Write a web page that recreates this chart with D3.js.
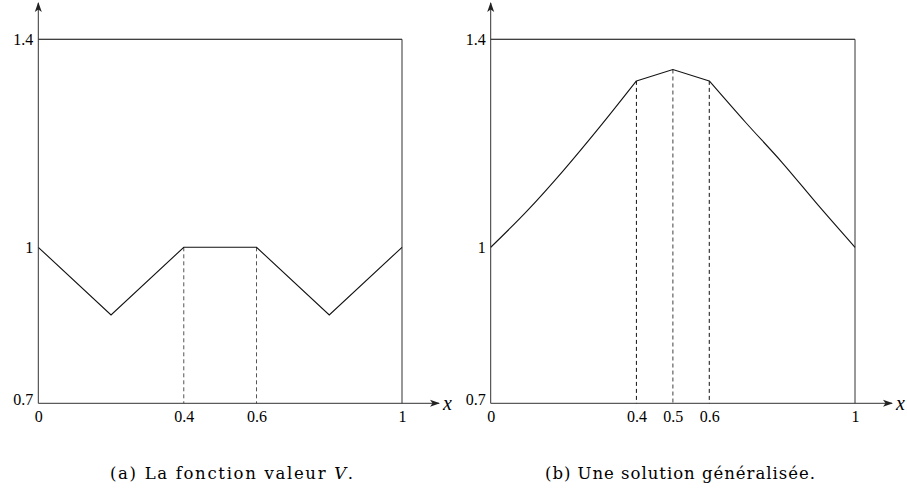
<!DOCTYPE html>
<html>
<head>
<meta charset="utf-8">
<script src="https://cdn.jsdelivr.net/npm/d3@7"></script>
<style>
  html, body { margin: 0; padding: 0; background: #fff; }
  svg { display: block; }
</style>
</head>
<body>
<svg id="fig" width="907" height="490"></svg>
<script>
// Panel (a): value function V, piecewise linear
const valueX = [0, 0.2, 0.4, 0.6, 0.8, 1];
const valueY = [1, 0.87, 1, 1, 0.87, 1];

// Panel (b): generalized solution, smooth flanks joined by a kinked cap
const solLeftX = [0, 0.1, 0.2, 0.3, 0.4];
const solLeftY = [1, 1.07, 1.148, 1.232, 1.32];
const solCapX = [0.4, 0.5, 0.6];
const solCapY = [1.32, 1.342, 1.32];
const solRightX = [0.6, 0.7, 0.8, 0.9, 1];
const solRightY = [1.32, 1.24, 1.163, 1.08, 1];

// Tick labels
const yTicks = [0.7, 1, 1.4];
const xTicksA = [0, 0.4, 0.6, 1];
const xTicksB = [0, 0.4, 0.5, 0.6, 1];
const dashesA = [0.4, 0.6];
const dashesB = [0.4, 0.5, 0.6];

const captionA = "(a) La fonction valeur ";
const captionB = "(b) Une solution généralisée.";

const SERIF = "'Liberation Serif', 'Times New Roman', serif";
const CAPTION = "'DejaVu Serif', serif";

const svg = d3.select("#fig");

const y = d3.scaleLinear().domain([0.7, 1.4]).range([403.3, 39.3]);
const xA = d3.scaleLinear().domain([0, 1]).range([38.3, 402]);
const xB = d3.scaleLinear().domain([0, 1]).range([490.7, 855]);

svg.append("defs").append("marker")
  .attr("id", "arrow")
  .attr("viewBox", "0 0 10 10")
  .attr("refX", 9).attr("refY", 5)
  .attr("markerWidth", 10).attr("markerHeight", 10)
  .attr("markerUnits", "userSpaceOnUse")
  .attr("orient", "auto")
  .append("path")
  .attr("d", "M0,1.5 L10,5 L0,8.5 L2.5,5 Z")
  .attr("fill", "#222");

const pair = (xs, ys) => xs.map((v, i) => [v, ys[i]]);

function styleTicks(sel) {
  sel.selectAll("text")
    .style("font-family", SERIF)
    .style("font-size", "16px")
    .style("fill", "#000");
}

function panel(x, xTicks, dashes, curves, dashStyle) {
  const g = svg.append("g");

  // frame: top edge at 1.4 and right edge at x = 1
  g.append("line")
    .attr("x1", x(0)).attr("x2", x(1))
    .attr("y1", y(1.4)).attr("y2", y(1.4))
    .attr("stroke", "#000").attr("stroke-width", 1.1);
  g.append("line")
    .attr("x1", x(1)).attr("x2", x(1))
    .attr("y1", y(1.4)).attr("y2", y(0.7))
    .attr("stroke", "#333").attr("stroke-width", 1);

  // dashed guides from the curve down to the x axis
  dashes.forEach(d => {
    const st = dashStyle(d);
    g.append("line")
      .attr("x1", x(d)).attr("x2", x(d))
      .attr("y1", y(st.top)).attr("y2", y(0.7))
      .attr("stroke", st.color)
      .attr("stroke-width", st.width)
      .attr("stroke-dasharray", "4,3");
  });

  // curves
  curves.forEach(c => {
    g.append("path")
      .datum(c.pts)
      .attr("fill", "none")
      .attr("stroke", "#111")
      .attr("stroke-width", 1.1)
      .attr("d", d3.line().x(p => x(p[0])).y(p => y(p[1])).curve(c.curve));
  });

  // axes with arrowheads
  g.append("line")
    .attr("x1", x(0)).attr("x2", x(0))
    .attr("y1", y(0.7)).attr("y2", 3)
    .attr("stroke", "#333").attr("stroke-width", 1)
    .attr("marker-end", "url(#arrow)");
  g.append("line")
    .attr("x1", x(0)).attr("x2", x(1) + 37)
    .attr("y1", y(0.7)).attr("y2", y(0.7))
    .attr("stroke", "#333").attr("stroke-width", 1)
    .attr("marker-end", "url(#arrow)");

  // tick labels
  const ax = g.append("g")
    .attr("transform", `translate(0,${y(0.7)})`)
    .call(d3.axisBottom(x).tickValues(xTicks).tickSize(0).tickPadding(7)
      .tickFormat(d3.format("")));
  ax.select(".domain").remove();
  styleTicks(ax);

  const ay = g.append("g")
    .attr("transform", `translate(${x(0)},0)`)
    .call(d3.axisLeft(y).tickValues(yTicks).tickSize(0).tickPadding(5)
      .tickFormat(d3.format("")));
  ay.select(".domain").remove();
  styleTicks(ay);
  ay.selectAll(".tick").filter(d => d === 0.7).select("text").attr("dy", "0.05em");

  // axis name
  g.append("text")
    .attr("x", x(1) + 41).attr("y", y(0.7) + 7)
    .style("font-family", SERIF)
    .style("font-style", "italic")
    .style("font-size", "20px")
    .style("fill", "#000")
    .text("x");
}

panel(xA, xTicksA, dashesA,
  [{ pts: pair(valueX, valueY), curve: d3.curveLinear }],
  () => ({ top: 1, color: "#555", width: 1 }));

const capTop = d => solCapY[solCapX.indexOf(d)];
panel(xB, xTicksB, dashesB,
  [
    { pts: pair(solLeftX, solLeftY), curve: d3.curveMonotoneX },
    { pts: pair(solCapX, solCapY), curve: d3.curveLinear },
    { pts: pair(solRightX, solRightY), curve: d3.curveMonotoneX }
  ],
  d => d === 0.5
    ? { top: capTop(d), color: "#777", width: 1.4 }
    : { top: capTop(d), color: "#111", width: 1 });

// captions
const capA = svg.append("text")
  .attr("x", 110).attr("y", 479)
  .style("font-family", CAPTION)
  .style("font-size", "16.5px")
  .style("fill", "#000")
  .attr("textLength", 243).attr("lengthAdjust", "spacing");
capA.append("tspan").text(captionA);
capA.append("tspan").style("font-style", "italic").text("V");
capA.append("tspan").text(".");

svg.append("text")
  .attr("x", 545).attr("y", 479)
  .style("font-family", CAPTION)
  .style("font-size", "16.5px")
  .style("fill", "#000")
  .attr("textLength", 270).attr("lengthAdjust", "spacing")
  .text(captionB);
</script>
</body>
</html>
